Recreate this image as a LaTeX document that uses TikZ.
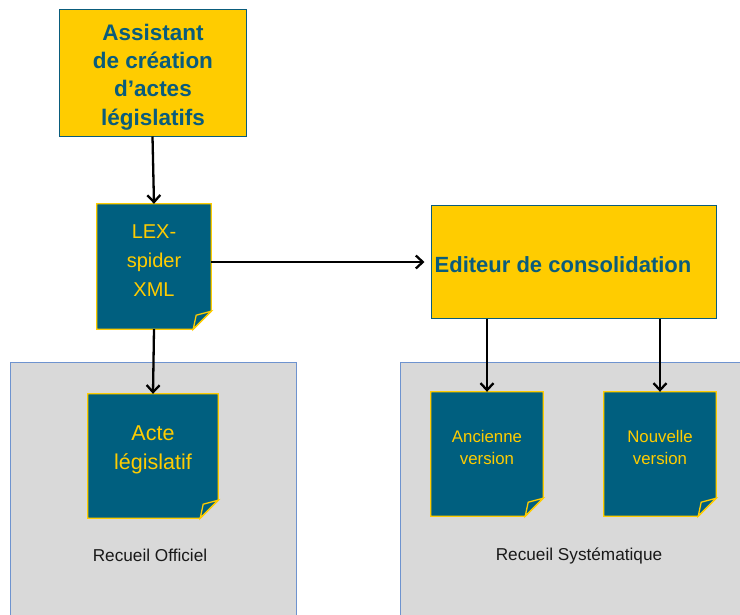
\documentclass[tikz,border=0pt]{standalone}
\usepackage{fontspec}
\setmainfont{Liberation Sans}
\usetikzlibrary{arrows.meta,backgrounds}
\definecolor{yel}{HTML}{FFCC00}
\definecolor{teal}{HTML}{005F7F}
\definecolor{tealdark}{HTML}{0A5C7C}
\definecolor{panelfill}{HTML}{D9D9D9}
\definecolor{panelline}{HTML}{6E93CF}
\tikzset{
  ybox/.style={draw=tealdark, line width=1pt, fill=yel, inner sep=0pt},
  ytext/.style={text=tealdark, inner sep=0pt, align=center},
  docnode/.style={draw=none, inner sep=0pt},
  doctext/.style={text=yel, align=center, inner sep=0pt},
  docline/.style={draw=yel, line width=1.3pt, fill=teal, line join=miter},
  panel/.style={draw=panelline, line width=0.9pt, fill=panelfill, inner sep=0pt},
  paneltext/.style={text=black!90, inner sep=0pt, font=\fontsize{17.2}{19}\selectfont},
  arr/.style={draw=black, line width=2.3pt, -{Straight Barb[length=7pt,width=13pt,line width=2.3pt]}},
}
\newcommand{\mydocshape}[1]{%
  \path[docline] (#1.north west) -- (#1.north east) -- ([yshift=18pt]#1.south east) -- ([xshift=-18pt]#1.south east) -- (#1.south west) -- cycle;
  \path[docline] ([yshift=18pt]#1.south east) -- ([xshift=-15pt,yshift=14pt]#1.south east) -- ([xshift=-18pt]#1.south east) -- cycle;
}
\begin{document}
\begin{tikzpicture}[x=1pt,y=-1pt]
\useasboundingbox (0,0) rectangle (740,614);
\clip (0,0) rectangle (740,614);
\begin{scope}[on background layer]
  \fill[white] (0,0) rectangle (740,614);
  \draw[panel] (10,362) rectangle (296,640);
  \draw[panel] (400,362) rectangle (760,640);
  \coordinate (ro) at (10,362);
  \coordinate (rs) at (400,362);
\end{scope}
% yellow boxes
\node[ybox, minimum width=187pt, minimum height=127pt] (asst) at (152.5,72.5) {};
\node[ytext, font=\bfseries\fontsize{22.5}{28.3}\selectfont] (assttxt) at (153,77) {Assistant\\de création\\d’actes\\législatifs};
\node[ybox, minimum width=285pt, minimum height=113pt] (edit) at (573.5,261.5) {};
\node[ytext, font=\bfseries\fontsize{22}{26}\selectfont] (edittxt) at (563,265) {Editeur de consolidation};
% documents
\node[docnode, minimum width=114pt, minimum height=125pt] (lex) at (154,266.5) {};
\node[doctext, font=\fontsize{20}{29}\selectfont] (lextxt) at (154,261) {LEX-\\spider\\XML};
\node[docnode, minimum width=130pt, minimum height=124pt] (acte) at (153,456) {};
\node[doctext, font=\fontsize{21.5}{29}\selectfont] (actetxt) at (153,450) {Acte\\législatif};
\node[docnode, minimum width=112pt, minimum height=124pt] (anc) at (487,454) {};
\node[doctext, font=\fontsize{16.8}{21.5}\selectfont] (anctxt) at (487,447.5) {Ancienne\\version};
\node[docnode, minimum width=112pt, minimum height=124pt] (nouv) at (660,454) {};
\node[doctext, font=\fontsize{16.8}{21.5}\selectfont] (nouvtxt) at (660,447.5) {Nouvelle\\version};
\begin{scope}[on background layer]
  \mydocshape{lex}
  \mydocshape{acte}
  \mydocshape{anc}
  \mydocshape{nouv}
\end{scope}
% panel labels
\node[paneltext] (rotxt) at (150,555) {Recueil Officiel};
\node[paneltext] (rstxt) at (579,556) {Recueil Systématique};
% arrows
\draw[arr] (asst.south) -- (lex.north);
\draw[arr] (lex.south) -- (acte.north);
\draw[arr, shorten >=6pt] (lex.east |- 0,262) -- (edit.west |- 0,262);
\draw[arr] (edit.south -| anc.north) -- (anc.north);
\draw[arr] (edit.south -| nouv.north) -- (nouv.north);
\end{tikzpicture}
\end{document}
